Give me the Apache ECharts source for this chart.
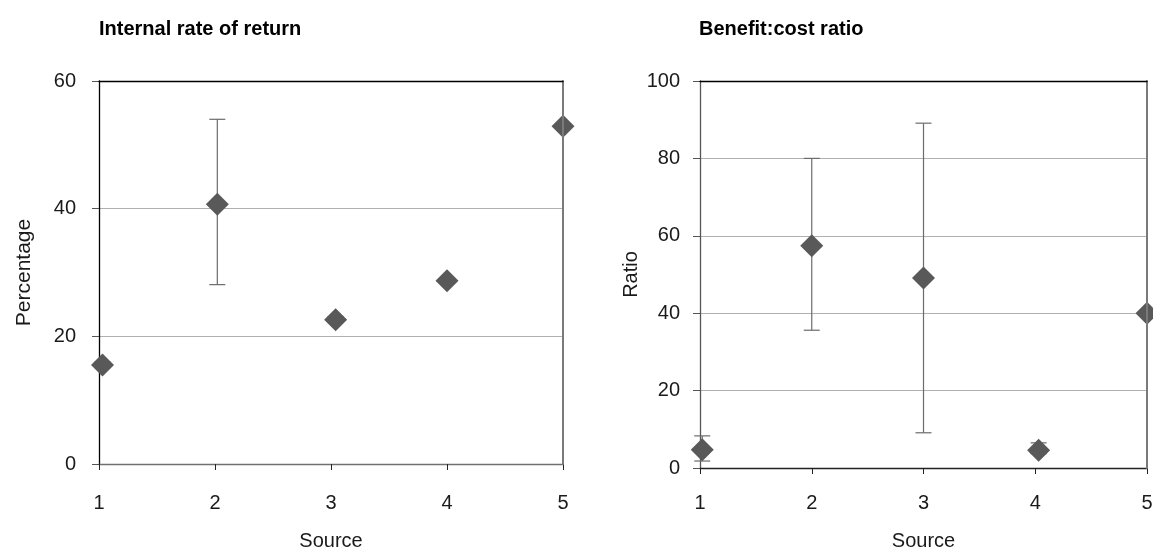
<!DOCTYPE html>
<html>
<head>
<meta charset="utf-8">
<script src="https://cdn.jsdelivr.net/npm/echarts@6/dist/echarts.min.js"></script>
<style>
html,body{margin:0;padding:0;background:#fff;}
#c{width:1153px;height:550px;}
</style>
</head>
<body>
<div id="c"></div>
<script>
// ---- data ----
var sources = [1, 2, 3, 4, 5];
var xTickLabels = ['1', '2', '3', '4', '5'];

// Internal rate of return (percentage)
var irrX = [1.03, 2.02, 3.04, 4.0, 5.0];
var irrValue = [15.5, 40.7, 22.6, 28.7, 52.9];
var irrLow = [15.1, 28.1, 22.2, 28.7, 52.9];
var irrHigh = [16.0, 54.0, 23.1, 28.7, 52.9];
var irrTicks = [0, 20, 40, 60];

// Benefit:cost ratio
var bcrX = [1.02, 2.0, 3.0, 4.03, 5.0];
var bcrValue = [4.7, 57.4, 49.1, 4.6, 40.0];
var bcrLow = [1.8, 35.6, 9.1, 3.7, 40.0];
var bcrHigh = [8.3, 80.0, 89.1, 6.5, 40.0];
var bcrTicks = [0, 20, 40, 60, 80, 100];

var titles = ['Internal rate of return', 'Benefit:cost ratio'];
var yNames = ['Percentage', 'Ratio'];
var xName = 'Source';

// ---- chart ----
var FONT = 'Liberation Sans';
var chart = echarts.init(document.getElementById('c'));

function pts(xs, ys) { return xs.map(function (x, i) { return [x, ys[i]]; }); }
function errs(xs, lo, hi) { return xs.map(function (x, i) { return [x, lo[i], hi[i]]; }); }

function errorItem(params, api) {
  var x = api.value(0);
  var lo = api.coord([x, api.value(1)]);
  var hi = api.coord([x, api.value(2)]);
  var w = 8;
  var st = { stroke: '#6b6b6b', lineWidth: 1.2 };
  return {
    type: 'group',
    children: [
      { type: 'line', shape: { x1: lo[0], y1: lo[1], x2: hi[0], y2: hi[1] }, style: st },
      { type: 'line', shape: { x1: hi[0] - w, y1: hi[1], x2: hi[0] + w, y2: hi[1] }, style: st },
      { type: 'line', shape: { x1: lo[0] - w, y1: lo[1], x2: lo[0] + w, y2: lo[1] }, style: st }
    ]
  };
}

function xMain(g, lineColor, labelMargin, nameGap) {
  return {
    gridIndex: g, type: 'value', min: 1, max: 5, interval: 1, position: 'bottom',
    axisLine: { show: true, onZero: false, lineStyle: { color: lineColor, width: 1.3 } },
    axisTick: { show: true, inside: false, length: 6, lineStyle: { color: '#222' } },
    axisLabel: { margin: labelMargin, color: '#1a1a1a', fontFamily: FONT, fontSize: 20,
      formatter: function (v) { return xTickLabels[sources.indexOf(v)] || ''; } },
    splitLine: { show: false },
    name: xName, nameLocation: 'middle', nameGap: nameGap,
    nameTextStyle: { color: '#1a1a1a', fontFamily: FONT, fontSize: 20 }
  };
}
function xTop(g) {
  return {
    gridIndex: g, type: 'value', min: 1, max: 5, position: 'top', z: 10,
    axisLine: { show: true, onZero: false, lineStyle: { color: '#000', width: 1.3 } },
    axisTick: { show: false }, axisLabel: { show: false }, splitLine: { show: false }
  };
}
function yMain(g, max, lineColor, labelMargin, nameGap, name, nameSize) {
  return {
    gridIndex: g, type: 'value', min: 0, max: max, interval: 20, position: 'left',
    axisLine: { show: true, onZero: false, lineStyle: { color: lineColor, width: 1.3 } },
    axisTick: { show: true, inside: false, length: 7, lineStyle: { color: '#555' } },
    axisLabel: { margin: labelMargin, color: '#1a1a1a', fontFamily: FONT, fontSize: 20 },
    splitLine: { show: true, lineStyle: { color: '#b0b0b0', width: 1 } },
    name: name, nameLocation: 'middle', nameGap: nameGap, nameRotate: 90,
    nameTextStyle: { color: '#1a1a1a', fontFamily: FONT, fontSize: nameSize }
  };
}
function yRight(g, max) {
  return {
    gridIndex: g, type: 'value', min: 0, max: max, position: 'right', z: 10,
    axisLine: { show: true, onZero: false, lineStyle: { color: '#7a7a7a', width: 2 } },
    axisTick: { show: false }, axisLabel: { show: false }, splitLine: { show: false }
  };
}

chart.setOption({
  backgroundColor: '#ffffff',
  animation: false,
  title: [
    { text: titles[0], left: 99, top: 19, padding: 0, textStyle: { fontFamily: FONT, fontSize: 20, fontWeight: 'bold', color: '#000' } },
    { text: titles[1], left: 699, top: 19, padding: 0, textStyle: { fontFamily: FONT, fontSize: 20, fontWeight: 'bold', color: '#000' } }
  ],
  grid: [
    { left: 99, top: 81, width: 464, height: 383, containLabel: false, outerBoundsMode: 'none' },
    { left: 700, top: 81, width: 447, height: 387, containLabel: false, outerBoundsMode: 'none' }
  ],
  xAxis: [
    xMain(0, '#707070', 29, 67),
    xTop(0),
    xMain(1, '#222', 25, 63),
    xTop(1)
  ],
  yAxis: [
    yMain(0, irrTicks[irrTicks.length - 1], '#000', 23, 64, yNames[0], 21),
    yRight(0, irrTicks[irrTicks.length - 1]),
    yMain(1, bcrTicks[bcrTicks.length - 1], '#555', 20, 59, yNames[1], 20),
    yRight(1, bcrTicks[bcrTicks.length - 1])
  ],
  series: [
    { type: 'custom', xAxisIndex: 0, yAxisIndex: 0, renderItem: errorItem, data: errs(irrX, irrLow, irrHigh), z: 3, clip: false },
    { type: 'scatter', xAxisIndex: 0, yAxisIndex: 0, symbol: 'diamond', symbolSize: 23, data: pts(irrX, irrValue),
      itemStyle: { color: '#595959', opacity: 1 }, z: 4, clip: false },
    { type: 'custom', xAxisIndex: 2, yAxisIndex: 2, renderItem: errorItem, data: errs(bcrX, bcrLow, bcrHigh), z: 3, clip: false },
    { type: 'scatter', xAxisIndex: 2, yAxisIndex: 2, symbol: 'diamond', symbolSize: 23, data: pts(bcrX, bcrValue),
      itemStyle: { color: '#595959', opacity: 1 }, z: 4, clip: false }
  ]
});
</script>
</body>
</html>
